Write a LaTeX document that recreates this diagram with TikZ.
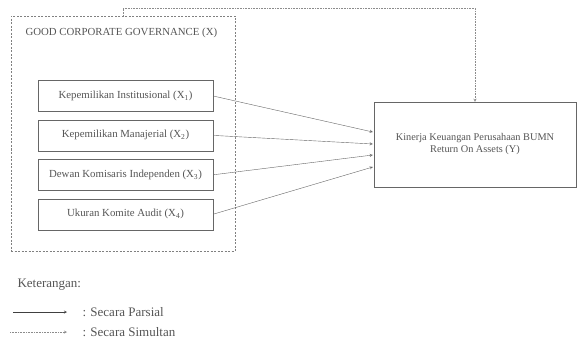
\documentclass[tikz,border=0pt]{standalone}
\usepackage{fontspec}
\setmainfont{Liberation Serif}
\usepackage{xcolor}
\usepackage{tikz}
\usetikzlibrary{arrows, positioning, calc}
\definecolor{inkgray}{HTML}{555555}
\tikzstyle{varbox} = [rectangle, minimum width=175pt, minimum height=31pt, inner sep=0pt, text centered, draw=black!60, font=\fontsize{10.8}{12}\selectfont, text=inkgray]
\tikzstyle{ybox} = [rectangle, minimum width=202pt, minimum height=85pt, inner sep=0pt, align=center, draw=black!60, font=\fontsize{10.3}{12}\selectfont, text=inkgray]
\tikzstyle{arrow} = [draw=black!60, ->, >=stealth]
\tikzstyle{dotarrow} = [draw=black!45, ->, >=stealth, dash pattern=on 0.8pt off 0.8pt]

\begin{document}
\begin{tikzpicture}[x=1pt, y=1pt, node distance=8pt]
\useasboundingbox (0,0) rectangle (588,343);
\fill[white] (0,0) rectangle (588,343);
\node (gcg) [rectangle, draw=black!50, dash pattern=on 2pt off 1.5pt, minimum width=224pt, minimum height=235pt] at (123,209.5) {};
\node (gcgtitle) [anchor=west, text=inkgray, font=\fontsize{10.8}{12}\selectfont] at (22,310) {GOOD CORPORATE GOVERNANCE (X)};
\node (xa) [varbox] at (125.5,247) {Kepemilikan Institusional (X\textsubscript{1})};
\node (xb) [varbox, below=of xa] {Kepemilikan Manajerial (X\textsubscript{2})};
\node (xc) [varbox, below=of xb] {Dewan Komisaris Independen (X\textsubscript{3})};
\node (xd) [varbox, below=of xc] {Ukuran Komite Audit (X\textsubscript{4})};
\node (roa) [ybox] at (475,198.5) {Kinerja Keuangan Perusahaan BUMN\\Return On Assets (Y)};

\draw [arrow] (xa.east) -- ($(roa.west)+(-1,12.5)$);
\draw [arrow] (xb.east) -- ($(roa.west)+(-1,0.5)$);
\draw [arrow] (xc.east) -- ($(roa.west)+(-1,-10.5)$);
\draw [arrow] (xd.east) -- ($(roa.west)+(-1,-22.5)$);

\draw [dotarrow] (gcg.north) -- ++(0,8) -| (roa.north);

% legend
\node (ket) [anchor=west, text=inkgray, font=\fontsize{13}{15}\selectfont] at (14,58) {Keterangan:};
\coordinate (pa) at (13,31);
\coordinate (pb) at (67,31);
\coordinate (sa) at (10,11);
\coordinate (sb) at (67,11);
\draw [arrow, draw=black!75] (pa) -- (pb);
\draw [dotarrow] (sa) -- (sb);
\node (parsial) [anchor=west, text=inkgray, font=\fontsize{13}{15}\selectfont] at (79,31) {: Secara Parsial};
\node (simultan) [anchor=west, text=inkgray, font=\fontsize{13}{15}\selectfont] at (79,11) {: Secara Simultan};
\end{tikzpicture}
\end{document}
